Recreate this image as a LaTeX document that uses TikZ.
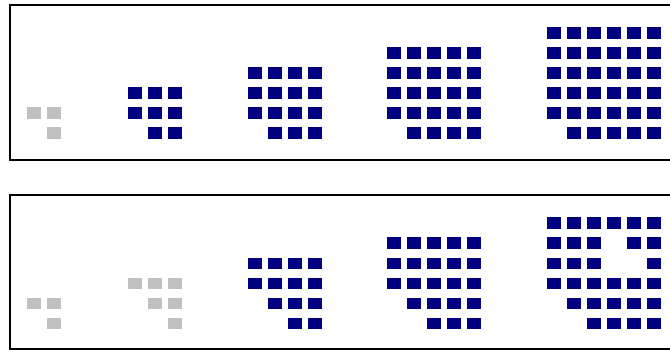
\documentclass[tikz,border=0pt]{standalone}
\usepackage{tikz}
\usepackage{xcolor}
\definecolor{sqnavy}{HTML}{000080}
\definecolor{sqgrey}{HTML}{C0C0C0}
\tikzset{
  sqblue/.style={fill=sqnavy},
  sqgray/.style={fill=sqgrey},
  panelframe/.style={draw=black, line width=2pt},
}
% one group: style, left x, top y, rows as offset/{columns}
\newcommand{\sqgroup}[4]{%
  \foreach \r/\cols in {#4}{
    \foreach \c in \cols
      \fill[#1] ({#2+20*(\c-1)},{#3+20*\r}) rectangle ++(13.5,11.5);
  }%
}

\begin{document}
\begin{tikzpicture}[x=1pt, y=-1pt]
  \useasboundingbox (0,0) rectangle (670,350);

  \draw[panelframe] (670,5) -| (10,160) -- (670,160);
  \draw[panelframe] (670,195) -| (10,349) -- (670,349);

  \sqgroup{sqgray}{27}{107.5}{0/{1,2},1/{2}}
  \sqgroup{sqblue}{128}{87.5}{0/{1,2,3},1/{1,2,3},2/{2,3}}
  \sqgroup{sqblue}{248}{67.5}{0/{1,...,4},1/{1,...,4},2/{1,...,4},3/{2,3,4}}
  \sqgroup{sqblue}{387}{47.5}{0/{1,...,5},1/{1,...,5},2/{1,...,5},3/{1,...,5},4/{2,...,5}}
  \sqgroup{sqblue}{547}{27.5}{0/{1,...,6},1/{1,...,6},2/{1,...,6},3/{1,...,6},4/{1,...,6},5/{2,...,6}}

  \sqgroup{sqgray}{27}{297.5}{0/{1,2},1/{2}}
  \sqgroup{sqgray}{128}{277.5}{0/{1,2,3},1/{2,3},2/{3}}
  \sqgroup{sqblue}{248}{257.5}{0/{1,...,4},1/{1,...,4},2/{2,3,4},3/{3,4}}
  \sqgroup{sqblue}{387}{237.5}{0/{1,...,5},1/{1,...,5},2/{1,...,5},3/{2,...,5},4/{3,4,5}}
  \sqgroup{sqblue}{547}{217.5}{0/{1,...,6},1/{1,2,3,5,6},2/{1,2,3,6},3/{1,...,6},4/{2,...,6},5/{3,...,6}}
\end{tikzpicture}
\end{document}
